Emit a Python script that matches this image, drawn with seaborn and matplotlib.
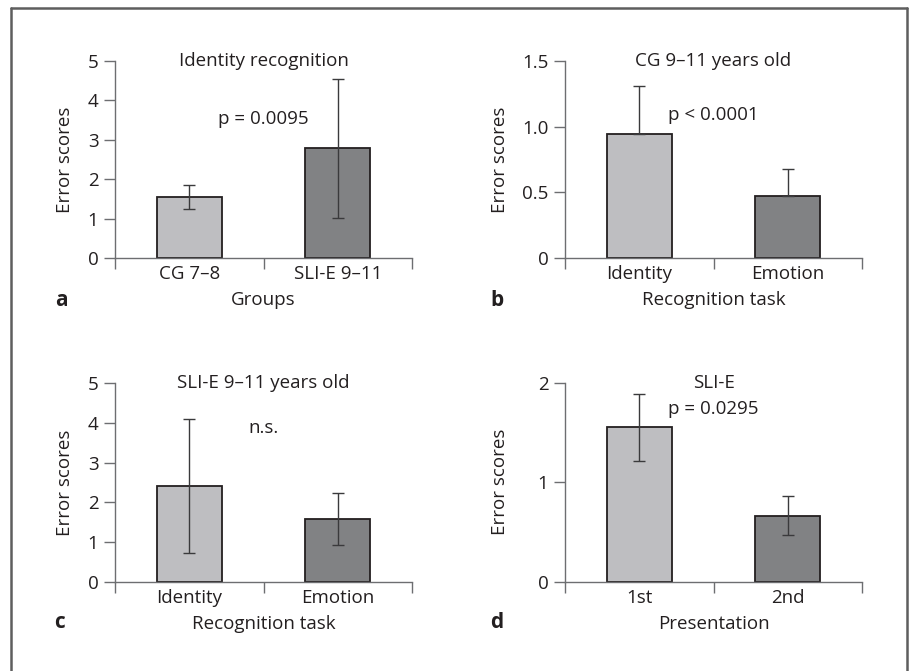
import numpy as np
import pandas as pd
import matplotlib
matplotlib.use("Agg")
import matplotlib.pyplot as plt
import seaborn as sns

# ---------------- data ----------------
cats_a = ["CG 7\u20138", "SLI-E 9\u201311"]
mean_a = [1.55, 2.78]
err_a = [0.30, 1.77]

cats_b = ["Identity", "Emotion"]
mean_b = [0.945, 0.475]
err_b_up = [0.365, 0.20]

cats_c = ["Identity", "Emotion"]
mean_c = [2.41, 1.58]
err_c = [1.68, 0.66]

cats_d = ["1st", "2nd"]
mean_d = [1.55, 0.665]
err_d = [0.34, 0.195]

titles = ["Identity recognition", "CG 9\u201311 years old", "SLI-E 9\u201311 years old", "SLI-E"]
stats = ["p = 0.0095", "p < 0.0001", "n.s.", "p = 0.0295"]
xlabels = ["Groups", "Recognition task", "Recognition task", "Presentation"]
letters = ["a", "b", "c", "d"]
yticks_a = [0, 1, 2, 3, 4, 5]
yticks_b = [0, 0.5, 1.0, 1.5]
yticklabels_b = ["0", "0.5", "1.0", "1.5"]
yticks_c = [0, 1, 2, 3, 4, 5]
yticks_d = [0, 1, 2]

# ---------------- style ----------------
sns.set_style("ticks")
plt.rcParams['font.family'] = ['Open Sans', 'DejaVu Sans']
TXT = "#231f20"
AX = "#6d6e71"
LIGHT = "#bdbec1"
DARK = "#808285"
EDGE = "#231f20"
FS = 13.5

W, H = 909, 671
fig = plt.figure(figsize=(W / 100, H / 100), dpi=100)
fig.patch.set_facecolor("white")


def rect(l, r, t, b):
    return [l / W, 1 - b / H, (r - l) / W, (b - t) / H]


# outer frame (open at bottom)
for xs, ys in [([10.5, 10.5], [671, 7.5]), ([10.5, 906.5], [7.5, 7.5]), ([906.5, 906.5], [7.5, 671])]:
    fig.add_artist(plt.Line2D([x / W for x in xs], [1 - y / H for y in ys], color="#5e5e5e", lw=1.8))

panels = [
    dict(box=(115, 412, 61, 258), cats=cats_a, mean=mean_a, yerr=[err_a, err_a], ylim=(0, 5),
         yt=yticks_a, ytl=[str(v) for v in yticks_a], stat_y=0.706, ylab_off=50, letter=(61, 301)),
    dict(box=(565, 862, 61, 258), cats=cats_b, mean=mean_b, yerr=[[0, 0], err_b_up], ylim=(0, 1.5),
         yt=yticks_b, ytl=yticklabels_b, stat_y=0.726, ylab_off=65, letter=(497, 301)),
    dict(box=(115, 412, 383.3, 581.7), cats=cats_c, mean=mean_c, yerr=[err_c, err_c], ylim=(0, 5),
         yt=yticks_c, ytl=[str(v) for v in yticks_c], stat_y=0.776, ylab_off=50, letter=(60, 623)),
    dict(box=(565, 862, 382.7, 581.7), cats=cats_d, mean=mean_d, yerr=[err_d, err_d], ylim=(0, 2),
         yt=yticks_d, ytl=[str(v) for v in yticks_d], stat_y=0.868, ylab_off=65, letter=(497, 623)),
]

for i, p in enumerate(panels):
    l, r, t, b = p["box"]
    ax = fig.add_axes(rect(l, r, t, b))
    df = pd.DataFrame({"cat": p["cats"], "val": p["mean"]})
    sns.barplot(data=df, x="cat", y="val", hue="cat", palette=[LIGHT, DARK], width=0.44,
                edgecolor=EDGE, linewidth=1.3, legend=False, errorbar=None, ax=ax, zorder=2)
    ax.errorbar(x=np.arange(len(p["cats"])), y=p["mean"], yerr=p["yerr"], fmt="none",
                ecolor="#3a3a3c", elinewidth=1.0, capsize=4, capthick=1.0, zorder=3)
    ax.set_xlim(-0.5, 1.5)
    ax.set_ylim(*p["ylim"])
    ax.set_yticks(p["yt"])
    ax.set_yticklabels(p["ytl"])
    ax.set_xticks([0, 1])
    ax.set_xticklabels(p["cats"])
    ax.set_xticks([-0.5, 0.5, 1.5], minor=True)
    ax.tick_params(axis="x", which="major", length=0, pad=5, labelsize=FS, labelcolor=TXT)
    ax.tick_params(axis="x", which="minor", length=8, width=1, color=AX, bottom=True)
    ax.tick_params(axis="y", which="major", length=8, width=1, color=AX, pad=4, labelsize=FS,
                   labelcolor=TXT, left=True)
    for s in ["top", "right"]:
        ax.spines[s].set_visible(False)
    for s in ["left", "bottom"]:
        ax.spines[s].set_color(AX)
        ax.spines[s].set_linewidth(1.0)
    ax.set_facecolor("none")
    ax.set_xlabel(xlabels[i], fontsize=FS, color=TXT)
    ax.xaxis.label.set_va("center")
    ax.xaxis.set_label_coords(0.5, -42.5 / (b - t))
    ax.set_ylabel("Error scores", fontsize=FS, color=TXT)
    ax.yaxis.label.set_va("center")
    ax.yaxis.set_label_coords(-p["ylab_off"] / (r - l), 0.5)
    ax.text(0.5, 1.0, titles[i], transform=ax.transAxes, ha="center", va="center",
            fontsize=FS, color=TXT)
    ax.text(0.5, p["stat_y"], stats[i], transform=ax.transAxes, ha="center", va="center",
            fontsize=FS, color=TXT)
    lx, ly = p["letter"]
    fig.text(lx / W, 1 - ly / H, letters[i], ha="center", va="center", fontsize=15,
             fontweight="bold", color=TXT)

fig.savefig("out.png", dpi=100, facecolor="white")
